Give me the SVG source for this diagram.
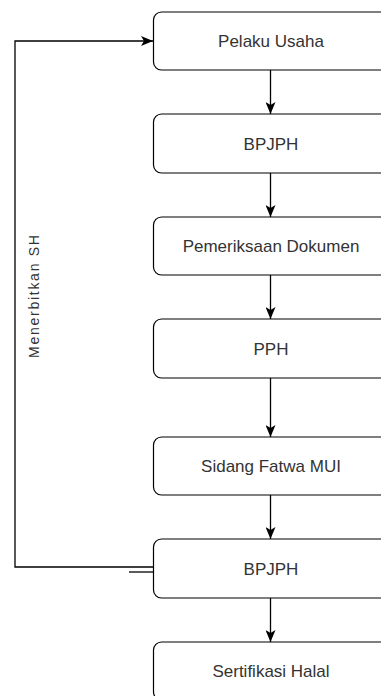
<svg xmlns="http://www.w3.org/2000/svg" width="381" height="696" viewBox="0 0 381 696">
<style>
.box{fill:#fff;stroke:#000;stroke-width:1.2}
.lbl{font-family:"Liberation Sans",Arial,sans-serif;font-size:17px;fill:#333;text-anchor:middle}
.edge{fill:none;stroke:#000;stroke-width:1.3}
.side{font-family:"Liberation Sans",Arial,sans-serif;font-size:14px;fill:#333;text-anchor:middle}
</style>
<defs>
<marker id="arr" viewBox="0 0 12 10" refX="12" refY="5" markerWidth="12" markerHeight="10" markerUnits="userSpaceOnUse" orient="auto">
<path d="M0,0 L12,5 L0,10 L3,5 z" fill="#000"/>
</marker>
</defs>
<rect width="381" height="696" fill="#fff"/>
<g id="connectors">
<path class="edge" d="M270.5,70 V114" marker-end="url(#arr)"/>
<path class="edge" d="M270.5,173 V217" marker-end="url(#arr)"/>
<path class="edge" d="M270.5,275 V319" marker-end="url(#arr)"/>
<path class="edge" d="M270.5,378 V437" marker-end="url(#arr)"/>
<path class="edge" d="M270.5,495 V539" marker-end="url(#arr)"/>
<path class="edge" d="M270.5,598 V642" marker-end="url(#arr)"/>
<path class="edge" d="M153,567 H15 V41 H153" marker-end="url(#arr)"/>
<path class="edge" d="M129,572 H153"/>
<text class="side" transform="translate(39,296.5) rotate(-90)" textLength="123" lengthAdjust="spacing">Menerbitkan SH</text>
</g>
<g id="n1"><rect class="box" x="153.5" y="12" width="236" height="58" rx="8"/><text class="lbl" x="271" y="47">Pelaku Usaha</text></g>
<g id="n2"><rect class="box" x="153.5" y="114" width="236" height="59" rx="8"/><text class="lbl" x="271" y="149.5">BPJPH</text></g>
<g id="n3"><rect class="box" x="153.5" y="217" width="236" height="58" rx="8"/><text class="lbl" x="271" y="252">Pemeriksaan Dokumen</text></g>
<g id="n4"><rect class="box" x="153.5" y="319" width="236" height="59" rx="8"/><text class="lbl" x="271" y="354.5">PPH</text></g>
<g id="n5"><rect class="box" x="153.5" y="437" width="236" height="58" rx="8"/><text class="lbl" x="271" y="472">Sidang Fatwa MUI</text></g>
<g id="n6"><rect class="box" x="153.5" y="539" width="236" height="59" rx="8"/><text class="lbl" x="271" y="574.5">BPJPH</text></g>
<g id="n7"><rect class="box" x="153.5" y="642" width="236" height="58" rx="8"/><text class="lbl" x="271" y="677">Sertifikasi Halal</text></g>
</svg>
